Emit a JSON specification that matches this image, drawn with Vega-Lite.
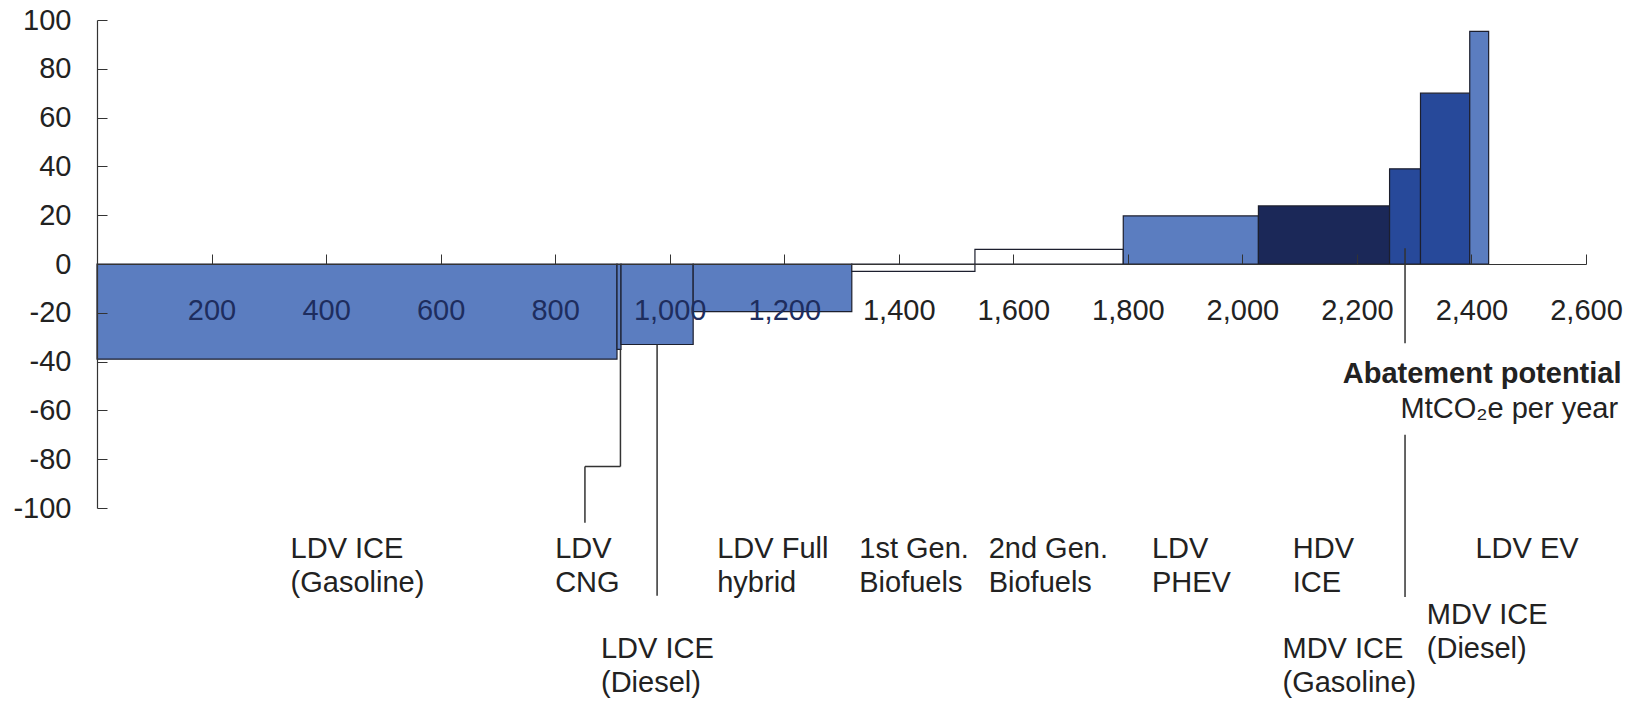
{
  "$schema": "https://vega.github.io/schema/vega-lite/v6.json",
  "width": 1489,
  "height": 488,
  "autosize": {"type": "none"},
  "padding": {"left": 97, "top": 20, "right": 49, "bottom": 194},
  "background": "white",
  "config": {
    "view": {"stroke": null},
    "font": "Liberation Sans"
  },
  "datasets": {
    "bars": [
      {"name": "LDV ICE (Gasoline)", "x0": 0, "x1": 908, "v": -39, "group": "light"},
      {"name": "LDV CNG", "x0": 908, "x1": 915, "v": -35, "group": "light"},
      {"name": "LDV ICE (Diesel)", "x0": 915, "x1": 1041, "v": -33, "group": "light"},
      {"name": "LDV Full hybrid", "x0": 1041, "x1": 1318, "v": -19.5, "group": "light"},
      {"name": "1st Gen. Biofuels", "x0": 1318, "x1": 1533, "v": -3, "group": "none"},
      {"name": "2nd Gen. Biofuels", "x0": 1533, "x1": 1792, "v": 6, "group": "none"},
      {"name": "LDV PHEV", "x0": 1792, "x1": 2028, "v": 19.7, "group": "light"},
      {"name": "HDV ICE", "x0": 2028, "x1": 2257, "v": 23.8, "group": "dark"},
      {"name": "MDV ICE (Gasoline)", "x0": 2257, "x1": 2311, "v": 39, "group": "medium"},
      {"name": "MDV ICE (Diesel)", "x0": 2311, "x1": 2397, "v": 70, "group": "medium"},
      {"name": "LDV EV", "x0": 2397, "x1": 2430, "v": 95.3, "group": "light"}
    ],
    "leaders": [
      {"x": 914, "y": -35, "x2": 914, "y2": -83},
      {"x": 914, "y": -83, "x2": 852, "y2": -83},
      {"x": 852, "y": -83, "x2": 852, "y2": -106},
      {"x": 978, "y": -33, "x2": 978, "y2": -136},
      {"x": 2284, "y": 6.5, "x2": 2284, "y2": -32.5},
      {"x": 2284, "y": -70, "x2": 2284, "y2": -136.5}
    ],
    "labels": [
      {"t": "LDV ICE", "x": 338, "y": -120.5},
      {"t": "(Gasoline)", "x": 338, "y": -134.4},
      {"t": "LDV", "x": 800, "y": -120.5},
      {"t": "CNG", "x": 800, "y": -134.4},
      {"t": "LDV Full", "x": 1083, "y": -120.5},
      {"t": "hybrid", "x": 1083, "y": -134.4},
      {"t": "1st Gen.", "x": 1331, "y": -120.5},
      {"t": "Biofuels", "x": 1331, "y": -134.4},
      {"t": "2nd Gen.", "x": 1557, "y": -120.5},
      {"t": "Biofuels", "x": 1557, "y": -134.4},
      {"t": "LDV", "x": 1842, "y": -120.5},
      {"t": "PHEV", "x": 1842, "y": -134.4},
      {"t": "HDV", "x": 2088, "y": -120.5},
      {"t": "ICE", "x": 2088, "y": -134.4},
      {"t": "LDV EV", "x": 2407, "y": -120.5},
      {"t": "MDV ICE", "x": 2322, "y": -147.5},
      {"t": "(Diesel)", "x": 2322, "y": -161.5},
      {"t": "LDV ICE", "x": 880, "y": -161.5},
      {"t": "(Diesel)", "x": 880, "y": -175.4},
      {"t": "MDV ICE", "x": 2070, "y": -161.5},
      {"t": "(Gasoline)", "x": 2070, "y": -175.4}
    ],
    "titleBold": [
      {"t": "Abatement potential", "x": 2662, "y": -48.6}
    ],
    "titleReg": [
      {"t": "MtCO₂e per year", "x": 2656, "y": -63.1}
    ]
  },
  "layer": [
    {
      "data": {"name": "bars"},
      "mark": {"type": "rect", "stroke": "#1c1f2e", "strokeWidth": 1.2},
      "encoding": {
        "x": {
          "field": "x0", "type": "quantitative", "title": null,
          "scale": {"domain": [0, 2600], "nice": false, "zero": false},
          "axis": {
            "values": [200, 400, 600, 800, 1000, 1200, 1400, 1600, 1800, 2000, 2200, 2400, 2600],
            "format": ",.0f",
            "offset": -244,
            "tickSize": -10,
            "tickColor": "#333333",
            "domainColor": "#333333",
            "domainWidth": 1.2,
            "labelPadding": 65,
            "labelBaseline": "alphabetic",
            "labelFontSize": 29,
            "labelFont": "Liberation Sans",
            "labelColor": {"condition": {"test": "datum.value <= 1200", "value": "#1e2d5e"}, "value": "#222222"},
            "labelFlush": false,
            "labelOverlap": false,
            "grid": false,
            "zindex": 1
          }
        },
        "x2": {"field": "x1"},
        "y": {
          "field": "v", "type": "quantitative", "title": null,
          "scale": {"domain": [-100, 100], "nice": false, "zero": false},
          "axis": {
            "values": [-100, -80, -60, -40, -20, 0, 20, 40, 60, 80, 100],
            "labelExpr": "datum.value < 0 ? '-' + abs(datum.value) : '' + datum.value",
            "tickSize": -10,
            "tickColor": "#333333",
            "domainColor": "#333333",
            "domainWidth": 1.2,
            "labelPadding": 36,
            "labelFontSize": 29,
            "labelFont": "Liberation Sans",
            "labelColor": "#222222",
            "labelFlush": false,
            "labelOverlap": false,
            "grid": false,
            "zindex": 1
          }
        },
        "y2": {"datum": 0},
        "color": {
          "field": "group", "type": "nominal", "legend": null,
          "scale": {"domain": ["light", "none", "dark", "medium"], "range": ["#5b7dc0", "#ffffff", "#1b2858", "#27499a"]}
        }
      }
    },
    {
      "data": {"name": "leaders"},
      "mark": {"type": "rule", "color": "#333333", "strokeWidth": 1.5},
      "encoding": {
        "x": {"field": "x", "type": "quantitative", "title": null},
        "x2": {"field": "x2"},
        "y": {"field": "y", "type": "quantitative", "title": null},
        "y2": {"field": "y2"}
      }
    },
    {
      "data": {"name": "labels"},
      "mark": {"type": "text", "align": "left", "baseline": "alphabetic", "fontSize": 29, "font": "Liberation Sans", "color": "#222222"},
      "encoding": {
        "x": {"field": "x", "type": "quantitative", "title": null},
        "y": {"field": "y", "type": "quantitative", "title": null},
        "text": {"field": "t"}
      }
    },
    {
      "data": {"name": "titleBold"},
      "mark": {"type": "text", "align": "right", "baseline": "alphabetic", "fontSize": 29, "fontWeight": "bold", "font": "Liberation Sans", "color": "#222222"},
      "encoding": {
        "x": {"field": "x", "type": "quantitative", "title": null},
        "y": {"field": "y", "type": "quantitative", "title": null},
        "text": {"field": "t"}
      }
    },
    {
      "data": {"name": "titleReg"},
      "mark": {"type": "text", "align": "right", "baseline": "alphabetic", "fontSize": 29, "font": "Liberation Sans", "color": "#222222"},
      "encoding": {
        "x": {"field": "x", "type": "quantitative", "title": null},
        "y": {"field": "y", "type": "quantitative", "title": null},
        "text": {"field": "t"}
      }
    }
  ]
}
